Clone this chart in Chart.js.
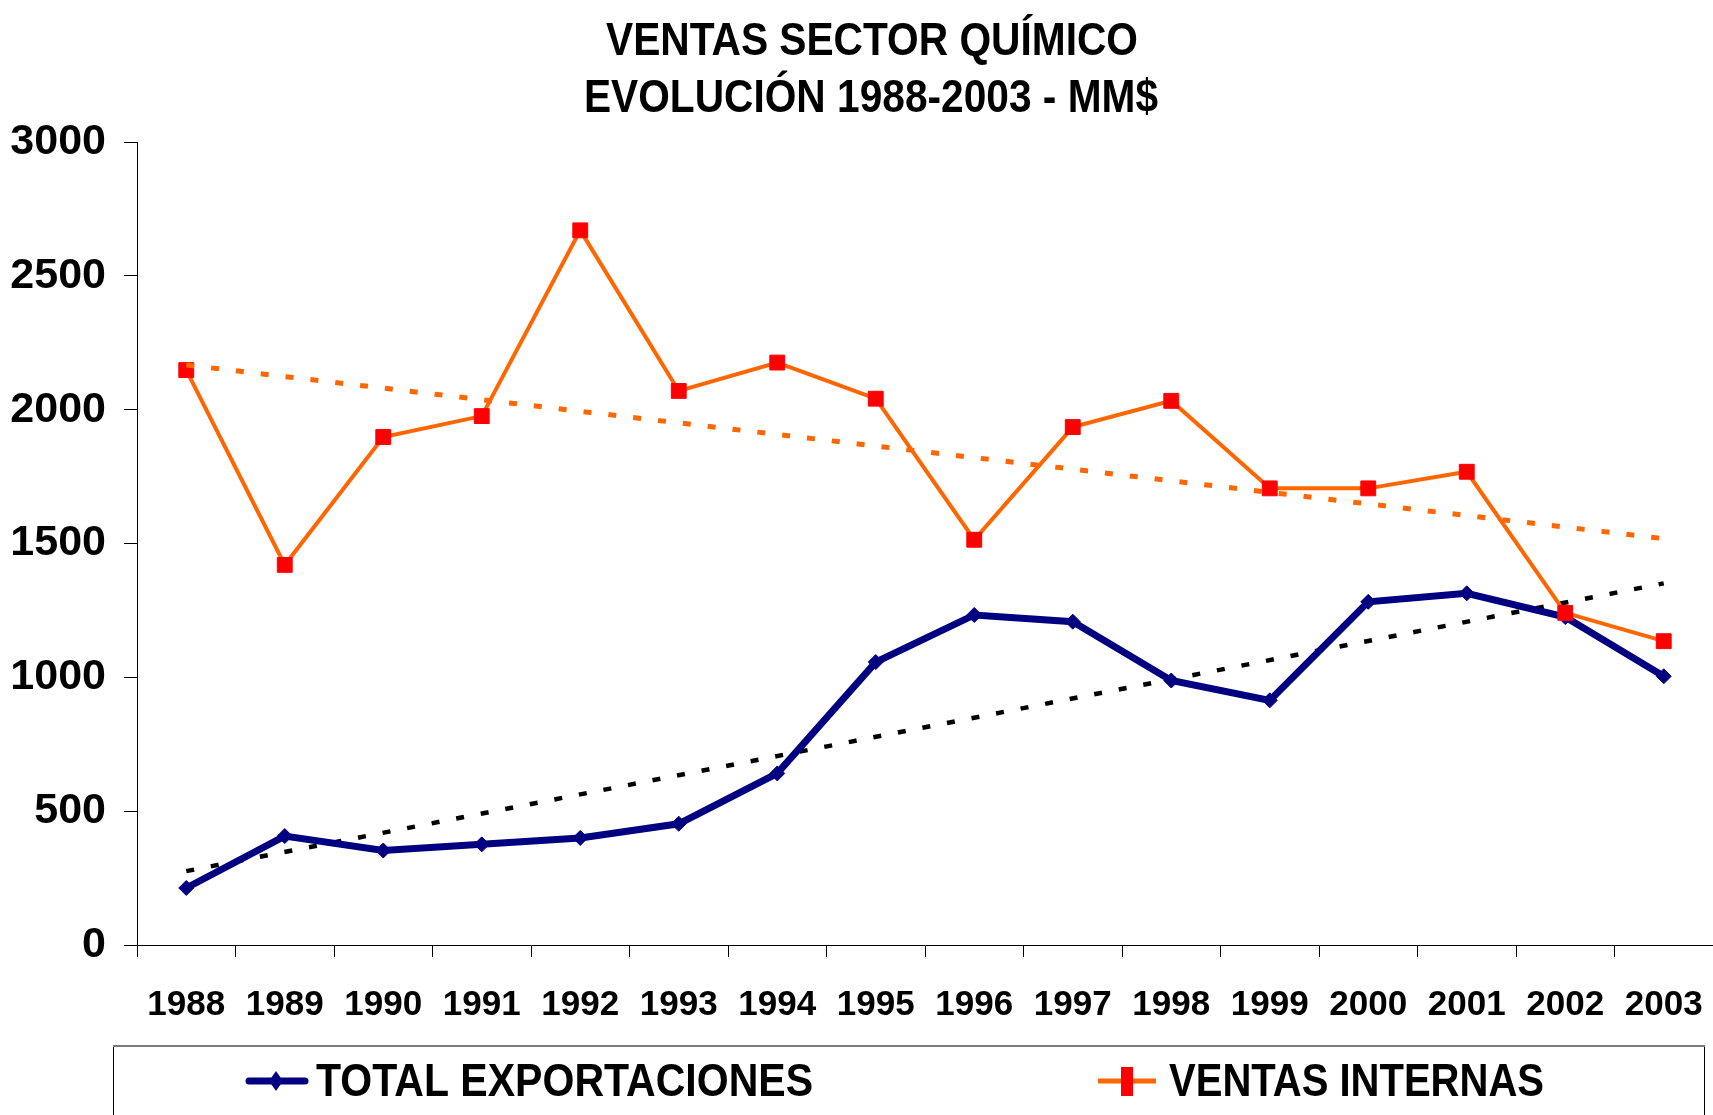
<!DOCTYPE html>
<html>
<head>
<meta charset="utf-8">
<script src="https://cdn.jsdelivr.net/npm/chart.js@4/dist/chart.umd.min.js"></script>
<style>
html,body{margin:0;padding:0;background:#fff;}
#wrap{width:1713px;height:1115px;position:relative;}
</style>
</head>
<body>
<div id="wrap"><canvas id="c" width="1713" height="1115"></canvas></div>
<script>
const years = ['1988','1989','1990','1991','1992','1993','1994','1995','1996','1997','1998','1999','2000','2001','2002','2003'];
const totalExportaciones = [213, 407, 353, 376, 400, 453, 641, 1057, 1233, 1208, 988, 914, 1282, 1314, 1225, 1004];
const ventasInternas = [2148, 1420, 1898, 1976, 2670, 2070, 2176, 2041, 1514, 1935, 2033, 1706, 1706, 1768, 1241, 1135];
const trendExportaciones = [276, null, null, null, null, null, null, null, null, null, null, null, null, null, null, 1351];
const trendInternas = [2167, null, null, null, null, null, null, null, null, null, null, null, null, null, null, 1518];
const titleLines = ['VENTAS SECTOR QUÍMICO', 'EVOLUCIÓN 1988-2003 - MM$'];
const seriesNames = ['TOTAL EXPORTACIONES', 'VENTAS INTERNAS'];
const yTicks = [0, 500, 1000, 1500, 2000, 2500, 3000];

const FONT = '"Liberation Sans", Arial, sans-serif';
const NAVY = '#000080', ORANGE = '#FF6600', RED = '#FF0000';

function fitText(ctx, text, x, y, width, font) {
  ctx.save();
  ctx.font = font;
  const w = ctx.measureText(text).width;
  ctx.translate(x, y);
  ctx.scale(width / w, 1);
  ctx.textAlign = 'left';
  ctx.textBaseline = 'alphabetic';
  ctx.fillStyle = '#000';
  ctx.fillText(text, 0, 0);
  ctx.restore();
}

const decorPlugin = {
  id: 'decor',
  afterDraw(chart) {
    const ctx = chart.ctx;
    // title
    fitText(ctx, titleLines[0], 606, 55, 532, 'bold 46px ' + FONT);
    fitText(ctx, titleLines[1], 584, 112, 574, 'bold 46px ' + FONT);
    // legend frame
    ctx.save();
    ctx.strokeStyle = '#000';
    ctx.lineWidth = 1;
    ctx.beginPath();
    ctx.moveTo(113.5, 1120); ctx.lineTo(113.5, 1045.5);
    ctx.moveTo(1704.5, 1045.5); ctx.lineTo(1704.5, 1120);
    ctx.stroke();
    ctx.strokeStyle = '#7a7a7a';
    ctx.lineWidth = 2;
    ctx.beginPath();
    ctx.moveTo(113, 1046); ctx.lineTo(1705, 1046);
    ctx.stroke();
    // legend item 1
    ctx.lineCap = 'round';
    ctx.strokeStyle = NAVY;
    ctx.lineWidth = 7;
    ctx.beginPath(); ctx.moveTo(249, 1081); ctx.lineTo(305, 1081); ctx.stroke();
    ctx.fillStyle = NAVY;
    ctx.beginPath();
    ctx.moveTo(276, 1071); ctx.lineTo(283, 1081); ctx.lineTo(276, 1091); ctx.lineTo(269, 1081); ctx.closePath(); ctx.fill();
    // legend item 2
    ctx.lineCap = 'butt';
    ctx.strokeStyle = ORANGE;
    ctx.lineWidth = 5;
    ctx.beginPath(); ctx.moveTo(1098, 1081); ctx.lineTo(1156, 1081); ctx.stroke();
    ctx.fillStyle = RED;
    ctx.fillRect(1121, 1067, 12, 29);
    ctx.restore();
    fitText(ctx, seriesNames[0], 316, 1096, 497, 'bold 47px ' + FONT);
    fitText(ctx, seriesNames[1], 1169, 1096, 375, 'bold 47px ' + FONT);
  }
};

new Chart(document.getElementById('c'), {
  type: 'line',
  data: {
    labels: years,
    datasets: [
      {
        label: 'Tendencia ' + seriesNames[1], data: trendInternas, spanGaps: true, order: 1,
        borderColor: ORANGE, borderWidth: 5, borderDash: [8, 17], pointRadius: 0, fill: false
      },
      {
        label: seriesNames[1], data: ventasInternas, order: 2,
        borderColor: ORANGE, borderWidth: 4, fill: false, tension: 0,
        pointStyle: 'rect', pointRadius: 10.5, pointBackgroundColor: RED, pointBorderColor: RED, pointBorderWidth: 1
      },
      {
        label: seriesNames[0], data: totalExportaciones, order: 3,
        borderColor: NAVY, borderWidth: 7, fill: false, tension: 0,
        pointStyle: 'rectRot', pointRadius: 7.5, pointBackgroundColor: NAVY, pointBorderColor: NAVY, pointBorderWidth: 1
      },
      {
        label: 'Tendencia ' + seriesNames[0], data: trendExportaciones, spanGaps: true, order: 4,
        borderColor: '#000', borderWidth: 4.5, borderDash: [8, 17], pointRadius: 0, fill: false
      }
    ]
  },
  options: {
    responsive: false,
    animation: false,
    events: [],
    layout: { autoPadding: false, padding: { top: 142, left: 0, right: 0, bottom: 0 } },
    plugins: { legend: { display: false }, title: { display: false }, tooltip: { enabled: false } },
    scales: {
      x: {
        offset: true,
        grid: { offset: true, drawOnChartArea: false, drawTicks: true, tickLength: 12, color: '#000', lineWidth: 1 },
        border: { color: '#000', width: 1 },
        ticks: { color: '#000', font: { family: FONT, size: 35, weight: 'bold' }, padding: 27, maxRotation: 0, autoSkip: false },
        afterFit(s) { s.height = 170; s.paddingLeft = 0; s.paddingRight = 0; }
      },
      y: {
        min: 0, max: 3000,
        afterBuildTicks(s) { s.ticks = yTicks.map(v => ({ value: v })); },
        grid: { drawOnChartArea: false, drawTicks: true, tickLength: 13, color: '#000', lineWidth: 1 },
        border: { color: '#000', width: 1 },
        ticks: { color: '#000', font: { family: FONT, size: 43, weight: 'bold' }, padding: 18, callback: v => String(v) },
        afterFit(s) { s.width = 137; }
      }
    }
  },
  plugins: [decorPlugin]
});
</script>
</body>
</html>
